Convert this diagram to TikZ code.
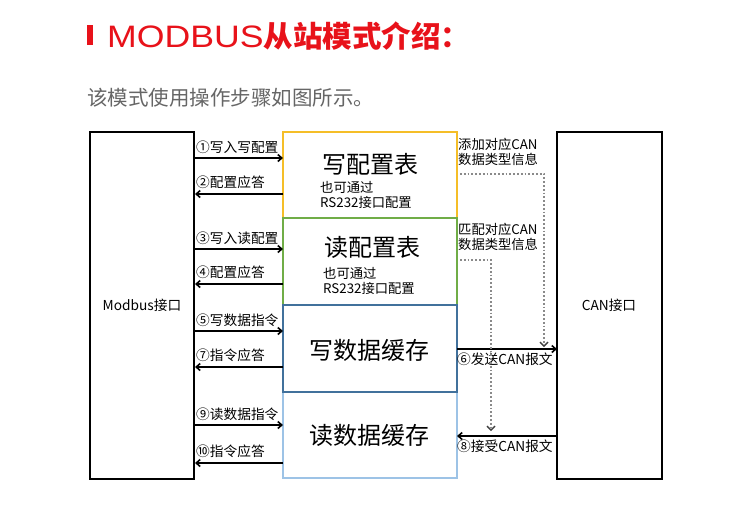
\documentclass[tikz,border=0pt]{standalone}
\usepackage{fontspec}
\setmainfont{Noto Sans CJK SC}
\newfontfamily\latinf{Liberation Sans}
\usetikzlibrary{arrows.meta}
\definecolor{titlered}{HTML}{E8121A}
\definecolor{subgray}{HTML}{666666}
\definecolor{cyellow}{HTML}{F5BE28}
\definecolor{cgreen}{HTML}{70AD47}
\definecolor{cdblue}{HTML}{41719C}
\definecolor{clblue}{HTML}{9DC3E6}
\definecolor{dotgray}{HTML}{8A8A8A}
\begin{document}
\begin{tikzpicture}[x=1pt,y=-1pt,
  iface/.style={draw=black,line width=2pt},
  mbox/.style={line width=1.6pt},
  lbl/.style={inner sep=0pt,font=\fontsize{13.7}{14}\selectfont},
  big/.style={inner sep=0pt,font=\fontsize{24}{26}\selectfont},
  small/.style={inner sep=0pt,align=left,font=\fontsize{13.3}{15.5}\selectfont},
  arr/.style={line width=1.6pt,-{Straight Barb[length=4pt,width=7pt]}},
  dotarr/.style={dotgray,line width=1.8pt,dotted,-{Straight Barb[length=4pt,width=8pt,line width=1.4pt,color=darkgray]}}]
\path[use as bounding box,fill=white] (0,0) rectangle (750,504);
% title
\fill[titlered] (87,25) rectangle (93,45);
\node[anchor=west,inner sep=0pt,text=titlered] (title) at (107,36)
  {{\latinf\fontsize{31}{31}\selectfont\scalebox{1.15}[1]{MODBUS}}{\fontsize{29.5}{30}\selectfont\bfseries 从站模式介绍：}};
\node[anchor=west,inner sep=0pt,text=subgray,font=\fontsize{20.5}{22}\selectfont] (sub) at (87,98) {该模式使用操作步骤如图所示。};
% interfaces
\draw[iface] (90,132) rectangle (194,479);
\node[inner sep=0pt,font=\fontsize{13.7}{14}\selectfont] (modbustxt) at (142,305) {Modbus接口};
\draw[iface] (557,132) rectangle (662,479);
\node[inner sep=0pt,font=\fontsize{13.7}{14}\selectfont] (cantxt) at (609,305) {CAN接口};
% middle boxes
\draw[mbox,cyellow] (283,132) rectangle (457,218);
\draw[mbox,cgreen] (283,218) rectangle (457,305);
\draw[mbox,clblue] (283,392) rectangle (457,478);
\draw[mbox,cdblue] (283,305) rectangle (457,392);
\node[big] (t1) at (370,164) {写配置表};
\node[small,anchor=north west] (s1) at (320,181) {也可通过\\RS232接口配置};
\node[big] (t2) at (372,247) {读配置表};
\node[small,anchor=north west] (s2) at (323,267) {也可通过\\RS232接口配置};
\node[big] (t3) at (369,350) {写数据缓存};
\node[big] (t4) at (369,435) {读数据缓存};
% coordinates for connectors
\foreach \n/\y in {a/158,b/194,c/249,d/284,e/331,f/367,g/425,h/463}{
  \coordinate (L\n) at (195,\y);
  \coordinate (R\n) at (283,\y);
}
\draw[arr] (La) -- (Ra);
\draw[arr] (Rb) -- (Lb);
\draw[arr] (Lc) -- (Rc);
\draw[arr] (Rd) -- (Ld);
\draw[arr] (Le) -- (Re);
\draw[arr] (Rf) -- (Lf);
\draw[arr] (Lg) -- (Rg);
\draw[arr] (Rh) -- (Lh);
\node[lbl,anchor=south west] at (196,154) {①写入写配置};
\node[lbl,anchor=south west] at (196,189) {②配置应答};
\node[lbl,anchor=south west] at (196,245) {③写入读配置};
\node[lbl,anchor=south west] at (196,279) {④配置应答};
\node[lbl,anchor=south west] at (196,327) {⑤写数据指令};
\node[lbl,anchor=south west] at (196,362) {⑦指令应答};
\node[lbl,anchor=south west] at (196,421) {⑨读数据指令};
\node[lbl,anchor=south west] at (196,458) {⑩指令应答};
% CAN side
\coordinate (C6a) at (457,349); \coordinate (C6b) at (557,349);
\coordinate (C8a) at (557,436); \coordinate (C8b) at (457,436);
\draw[arr] (C6a) -- (C6b);
\draw[arr] (C8a) -- (C8b);
\node[lbl,anchor=north west] at (457,353) {⑥发送CAN报文};
\node[lbl,anchor=north west] at (457,440) {⑧接受CAN报文};
\node[small,anchor=north west] (n1) at (458,138) {添加对应CAN\\数据类型信息};
\node[small,anchor=north west] (n2) at (458,223) {匹配对应CAN\\数据类型信息};
\coordinate (D1) at (460,174); \coordinate (D1e) at (544,347);
\coordinate (D2) at (460,260); \coordinate (D2e) at (491,431);
\draw[dotarr] (D1) -| (D1e);
\draw[dotarr] (D2) -| (D2e);
\end{tikzpicture}
\end{document}
